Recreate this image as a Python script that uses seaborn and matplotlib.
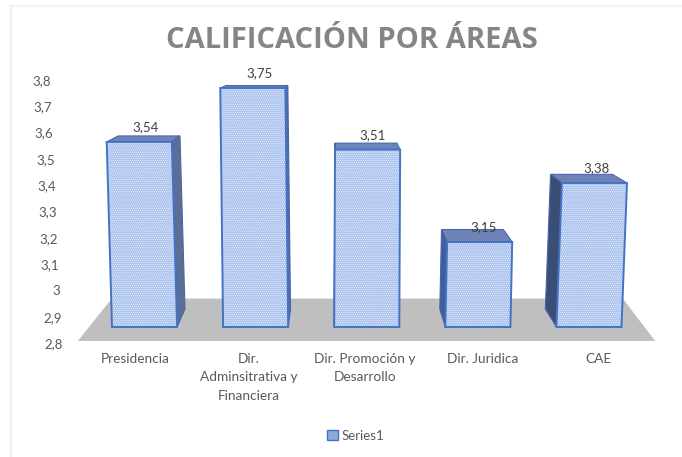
import matplotlib
matplotlib.use("Agg")
import matplotlib.pyplot as plt
import seaborn as sns
import numpy as np
from matplotlib.patches import Patch, Polygon
from matplotlib.lines import Line2D
from matplotlib.transforms import Affine2D, IdentityTransform, ScaledTranslation

areas = ["Presidencia", "Dir.\nAdminsitrativa y\nFinanciera", "Dir. Promoción y\nDesarrollo", "Dir. Juridica", "CAE"]
calificacion = [3.54, 3.75, 3.51, 3.15, 3.38]
tick_values = [2.8, 2.9, 3, 3.1, 3.2, 3.3, 3.4, 3.5, 3.6, 3.7, 3.8]

BASE = 2.819  # front plane floor level
W, H = 682, 457
VP_X, VP_Y = 335, H - 50
DEPTH_X, DEPTH_Y = 0.05, 0.065
side_colors = ["#5A6E96", "#4F6CAB", "#4F6CAB", "#3F5E9E", "#3A4E75"]
top_color = "#6C84B8"
label_shift = [-9, -7, -2, 5, 9]
value_shift = [1.5, 3.5, 6, 6, 8]
TEXT = "#595959"

sns.set_style("white")
plt.rcParams["font.family"] = ["Lato", "DejaVu Sans"]
plt.rcParams["hatch.linewidth"] = 0.3

fig = plt.figure(figsize=(W / 100, H / 100), dpi=100)
ax = fig.add_axes([89 / W, (H - 343) / H, 555.5 / W, 263 / H])

# bars, cut off at the floor level afterwards
sns.barplot(x=list(range(5)), y=calificacion, ax=ax, color="#AEC5EF", saturation=1, width=0.586,
            edgecolor="white", linewidth=0, hatch="........", zorder=3)
ax.set_xlim(-0.5, 4.5)
ax.set_ylim(2.7566, 3.7812)
sns.despine(ax=ax, left=True, bottom=True)

# gray floor
ax.add_patch(Polygon([(-0.02, 0.008), (0.041, 0.169), (0.961, 0.169), (1.019, 0.008)], closed=True,
                     transform=ax.transAxes, facecolor="#BFBFBF", edgecolor="none", zorder=0, clip_on=False))


def to_back(p):
    # move a front corner towards the vanishing point
    return (p[0] + (VP_X - p[0]) * DEPTH_X, p[1] + (VP_Y - p[1]) * DEPTH_Y)


for i, (bar, val) in enumerate(zip(ax.patches[:5], calificacion)):
    bar.set_y(BASE)
    bar.set_height(val - BASE)
    x0, x1 = bar.get_x(), bar.get_x() + bar.get_width()
    (px0, py0), (px1, py1) = ax.transData.transform([(x0, BASE), (x1, val)])
    lean = ((px0 + px1) / 2 - VP_X) * 0.00015
    bar.set_transform(ax.transData + Affine2D(np.array([[1, lean, -lean * py0], [0, 1, 0], [0, 0, 1]])))
    bar.set_clip_on(False)

    bl, br = (px0, py0), (px1, py0)
    tl, tr = (px0 + lean * (py1 - py0), py1), (px1 + lean * (py1 - py0), py1)
    faces = [([tl, tr, to_back(tr), to_back(tl)], top_color)]
    if to_back(tr)[0] > tr[0]:
        faces.append(([tr, br, to_back(br), to_back(tr)], side_colors[i]))
    if to_back(tl)[0] < tl[0]:
        faces.append(([tl, bl, to_back(bl), to_back(tl)], side_colors[i]))
    for pts, col in faces:
        ax.add_patch(Polygon(pts, closed=True, transform=IdentityTransform(), facecolor=col,
                             edgecolor="#4A66A8", linewidth=0.8, zorder=2, clip_on=False))
    ax.add_patch(Polygon([bl, br, tr, tl], closed=True, transform=IdentityTransform(), fill=False,
                         edgecolor="#4472C4", linewidth=1.4, zorder=4, clip_on=False))

    ax.annotate(f"{val:.2f}".replace(".", ","), (i, val), xytext=(value_shift[i] * 0.72, 6.2),
                textcoords="offset points", ha="center", va="bottom", fontsize=9.5, color="#404040",
                zorder=5, annotation_clip=False)

# x labels follow the perspective too
ax.set_xticks(range(5))
ax.set_xticklabels(areas, fontsize=9.8, color=TEXT, linespacing=1.65)
ax.tick_params(axis="x", length=0, pad=7)
ax.set_ylabel("")
ax.set_yticks([])
for lab, dx in zip(ax.get_xticklabels(), label_shift):
    lab.set_transform(lab.get_transform() + ScaledTranslation(dx / 100, 0, fig.dpi_scale_trans))

# value axis sits on the back wall, with its own scale
ax2 = ax.twinx()
ax2.set_ylim(2.8, 3.8)
ax2.yaxis.tick_left()
ax2.set_yticks(tick_values)
ax2.set_yticklabels([f"{v:g}".replace(".", ",") for v in tick_values], fontsize=9.5, color=TEXT)
ax2.tick_params(axis="y", length=0, pad=19)
sns.despine(ax=ax2, left=True, bottom=True, right=True)
for lab, v in zip(ax2.get_yticklabels(), tick_values):
    lab.set_transform(lab.get_transform() + ScaledTranslation(-(v - 2.8) * 11.5 / 100, 0, fig.dpi_scale_trans))

fig.text(352 / W, 1 - 40 / H, "CALIFICACIÓN POR ÁREAS", ha="center", va="center", fontsize=21,
         fontweight="bold", family="Open Sans", color="#858585")

ax.legend(handles=[Patch(facecolor="#8FA9E0", edgecolor="#4472C4", label="Series1")], loc="center",
          bbox_to_anchor=(356 / W, 1 - 436 / H), bbox_transform=fig.transFigure, frameon=False,
          fontsize=9.5, labelcolor=TEXT, handlelength=0.8, handleheight=0.8, handletextpad=0.3)

# faint frame of the pasted chart
fig.add_artist(Line2D([11 / W, 11 / W], [0, 1 - 6 / H], color="#EFEFEF", linewidth=1.5))
fig.add_artist(Line2D([11 / W, 1], [1 - 6 / H, 1 - 6 / H], color="#F3F3F3", linewidth=1.5))

fig.savefig("out.png", dpi=100, facecolor="white")
